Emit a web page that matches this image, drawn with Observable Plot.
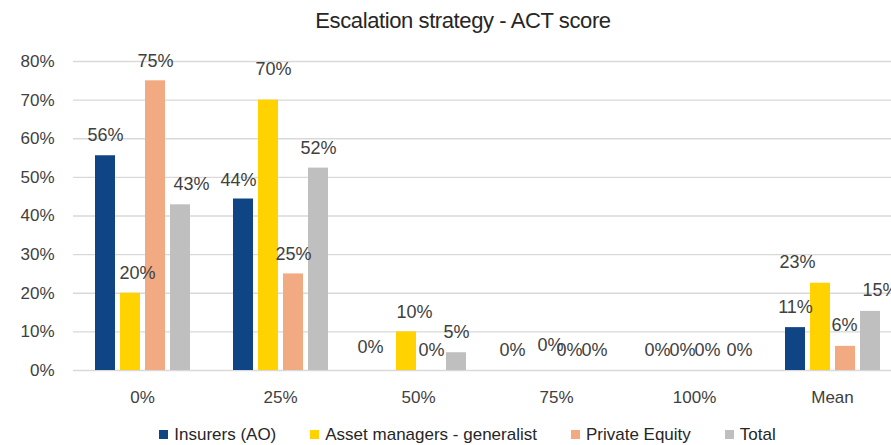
<!DOCTYPE html>
<html>
<head>
<meta charset="utf-8">
<script src="https://cdn.jsdelivr.net/npm/d3@7"></script>
<script src="https://cdn.jsdelivr.net/npm/@observablehq/plot@0.6"></script>
<style>
  html, body { margin: 0; padding: 0; background: #fff; }
  body { width: 891px; height: 445px; overflow: hidden; position: relative; }
  #title { position: absolute; left: 0; top: 0; width: 926px; height: 40px; line-height: 42px; text-align: center;
           font-family: "Liberation Sans", Arial, sans-serif; font-size: 22px; color: #262626; letter-spacing: -0.4px; }
  #chart { position: absolute; left: 0; top: 40px; }
  #legend { position: absolute; left: 0; top: 422px; width: 935px; height: 25px; display: flex; justify-content: center; align-items: center;
            font-family: "Liberation Sans", Arial, sans-serif; font-size: 17px; color: #262626; }
  .item { display: flex; align-items: center; margin: 0 17px; }
  .sw { width: 9px; height: 9px; margin-right: 6px; }
</style>
</head>
<body>
<div id="title">Escalation strategy - ACT score</div>
<div id="chart"></div>
<div id="legend"></div>
<script>
// ---- data ----
const categories = ["0%", "25%", "50%", "75%", "100%", "Mean"];
const series = ["Insurers (AO)", "Asset managers - generalist", "Private Equity", "Total"];
const insurers      = [0.556, 0.444, 0, 0, 0, 0.111];
const assetManagers = [0.20, 0.70, 0.10, 0, 0, 0.226];
const privateEquity = [0.75, 0.25, 0, 0, 0, 0.0625];
const total         = [0.429, 0.524, 0.046, 0, 0, 0.153];
const yTicks = [0, 0.1, 0.2, 0.3, 0.4, 0.5, 0.6, 0.7, 0.8];

// ---- styling ----
const colors = ["#0F4584", "#FFD200", "#F1AA82", "#BFBFBF"];
// data-label nudges (px) to mimic the spreadsheet label placement
const labelDx = [
  [0, -5, -11, -7, 0, 0],
  [7, 5, 8, 6, 0, -23],
  [0, 0, 0, 0, 0, -1],
  [11, 0, 0, 0, 7, 10]
];
const labelGap = [
  [21, 19, 23, 20, 20, 20],
  [20, 31, 20, 25, 20, 21],
  [20, 20, 20, 20, 20, 21],
  [21, 20, 20, 20, 20, 21]
];

const valuesBySeries = [insurers, assetManagers, privateEquity, total];
const rows = [];
series.forEach((s, si) => categories.forEach((c, ci) => {
  rows.push({category: c, series: s, value: valuesBySeries[si][ci], dx: labelDx[si][ci], gap: labelGap[si][ci]});
}));

const fmt = d3.format(".0%");
const groups = d3.groups(rows, d => d.dx + "|" + d.gap);
const labelMarks = groups.map(([key, g]) => Plot.text(g, {
  fx: "category", x: "series", y: "value", text: d => fmt(d.value),
  dx: g[0].dx, dy: -g[0].gap, lineAnchor: "middle", fontSize: 18, fill: "#404040",
  fontFamily: "Liberation Sans, Arial, sans-serif"
}));

const chart = Plot.plot({
  width: 891,
  height: 375,
  marginTop: 21,
  marginBottom: 45,
  marginLeft: 73,
  marginRight: 0,
  style: {fontSize: "17px", fontFamily: "Liberation Sans, Arial, sans-serif", color: "#404040", background: "#fff"},
  fx: {domain: categories, range: [73, 901], padding: 0, label: null, axis: "bottom", tickSize: 0, tickPadding: 20},
  x: {domain: series, paddingInner: 0.2, paddingOuter: 0.86, axis: null},
  y: {domain: [0, 0.8], ticks: yTicks, tickFormat: ".0%", label: null, tickSize: 0, tickPadding: 19},
  color: {domain: series, range: colors},
  marks: [
    Plot.ruleY(yTicks, {stroke: "#d9d9d9", strokeWidth: 1.3}),
    Plot.barY(rows, {fx: "category", x: "series", y: "value", fill: "series"}),
    ...labelMarks
  ]
});
document.getElementById("chart").appendChild(chart);

const legend = document.getElementById("legend");
series.forEach((s, i) => {
  const item = document.createElement("div");
  item.className = "item";
  const sw = document.createElement("div");
  sw.className = "sw";
  sw.style.background = colors[i];
  const t = document.createElement("span");
  t.textContent = s;
  item.appendChild(sw); item.appendChild(t);
  legend.appendChild(item);
});
</script>
</body>
</html>
